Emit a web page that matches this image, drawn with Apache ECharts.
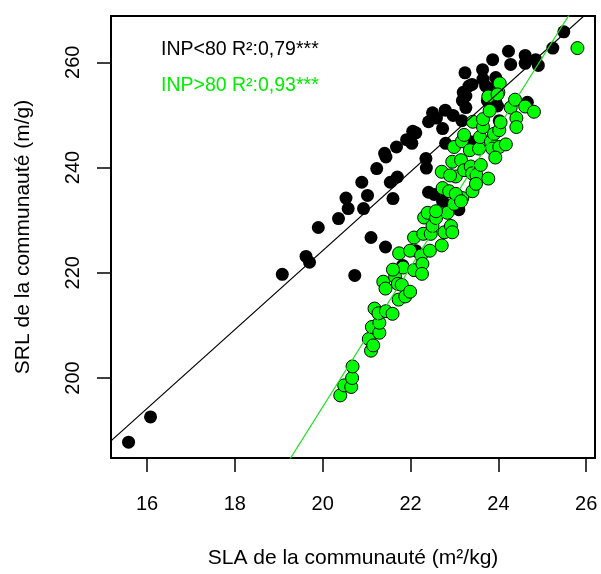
<!DOCTYPE html>
<html>
<head>
<meta charset="utf-8">
<script src="https://cdn.jsdelivr.net/npm/echarts@6/dist/echarts.min.js"></script>
<style>html,body{margin:0;padding:0;background:#fff}#c{width:601px;height:574px}</style>
</head>
<body>
<div id="c"></div>
<script>
// Tick values
const xTicks = [16, 18, 20, 22, 24, 26];
const yTicks = [200, 220, 240, 260];
const xRange = [15.18, 26.2];
const yRange = [184.8, 268.8];

// INP<80 (black) points: [SLA, SRL]
const inpLow = [
  [15.58,187.8],[16.08,192.6],[19.08,219.7],[19.62,223.1],[19.70,222.0],[19.90,228.6],
  [20.36,230.3],[20.53,234.2],[20.58,232.2],[20.89,237.2],[20.93,232.2],[20.73,219.5],
  [21.02,234.7],[21.10,226.7],[21.43,224.9],[21.23,239.8],[21.41,242.7],[21.44,242.0],
  [21.60,234.1],[21.54,237.2],[21.70,238.2],[21.68,243.9],[21.91,245.3],[22.05,246.9],
  [22.12,246.6],[22.03,244.6],[22.35,241.7],[22.36,239.9],[22.41,235.3],[22.54,234.9],
  [22.73,233.6],[22.41,248.7],[22.50,250.4],[22.59,249.4],[22.73,247.4],[22.79,250.9],
  [22.80,244.6],[22.97,249.9],[23.17,248.9],[23.24,258.0],[23.20,254.3],[23.18,252.7],
  [23.26,251.4],[23.40,255.8],[23.37,244.9],[23.64,258.6],[23.65,256.8],[23.71,255.5],
  [23.79,254.6],[23.75,252.7],[23.87,260.5],[23.94,257.1],[23.98,255.8],[23.94,252.4],
  [24.02,248.9],[23.98,251.7],[24.28,259.6],[24.61,259.8],[24.66,252.4],[24.91,259.4],
  [24.85,260.5],[25.49,265.8],[25.24,262.7],[24.23,262.1],[24.61,261.3],[23.33,255.5],
  [23.26,253.6],[21.82,221.4],[22.12,224.2],[23.03,233.0],[23.10,232.0]
];

// INP>80 (green) points: [SLA, SRL]
const inpHigh = [
  [20.40,196.7],[20.49,198.6],[20.65,198.3],[20.67,200.0],[20.68,202.2],[21.05,207.4],
  [21.10,205.2],[21.15,206.2],[21.12,209.7],[21.29,208.6],[21.29,210.5],[21.18,213.2],
  [21.27,212.3],[21.44,212.7],[21.59,212.2],[21.38,218.3],[21.43,217.0],[21.65,219.2],
  [21.71,217.9],[21.80,217.7],[21.73,214.9],[21.88,215.5],[21.99,216.4],[21.74,223.7],
  [21.83,221.0],[21.99,224.2],[22.08,220.5],[22.08,226.7],[22.24,223.3],[22.27,221.7],
  [22.26,219.8],[22.29,227.4],[22.31,230.5],[22.39,231.4],[22.44,224.2],[22.46,227.4],
  [22.50,228.9],[22.58,230.4],[22.71,225.2],[22.77,227.7],[22.92,228.9],[22.95,227.7],
  [22.84,231.4],[22.99,233.1],[23.18,234.2],[22.58,231.7],[22.73,236.1],[22.88,235.5],
  [23.03,235.0],[23.15,233.6],[23.41,235.5],[23.03,238.3],[22.71,239.2],[22.90,238.5],
  [22.95,241.1],[23.15,241.4],[23.22,239.5],[23.37,240.2],[23.40,238.9],[23.50,238.6],
  [23.60,240.5],[23.77,237.9],[23.49,236.9],[22.99,243.9],[23.17,245.0],[23.22,246.2],
  [23.35,243.3],[23.42,248.7],[23.56,243.6],[23.58,245.8],[23.65,247.7],[23.65,249.2],
  [23.83,244.9],[23.86,243.6],[23.90,246.4],[24.02,243.9],[23.93,241.9],[24.02,247.1],
  [24.05,248.6],[23.80,250.8],[23.77,253.5],[24.00,254.3],[24.03,256.0],[24.17,244.4],
  [24.28,251.4],[24.38,252.9],[24.41,249.4],[24.41,247.7],[24.61,251.6],[24.81,250.6],
  [25.80,262.7],[23.98,253.9],[21.60,220.6]
];

// Regression fits: [intercept, slope]
const fitLow = [74.2, 7.50];
const fitHigh = [-71.1, 13.28];

function fitLine(f) {
  return [xRange[0], xRange[1]].map(x => [x, f[0] + f[1] * x]);
}

const font = 'Liberation Sans, Arial, sans-serif';
const chart = echarts.init(document.getElementById('c'), null, {renderer: 'canvas'});
chart.setOption({
  animation: false,
  backgroundColor: '#fff',
  grid: {left: 111, right: 6, top: 16, bottom: 110, show: true, borderColor: '#000', borderWidth: 2},
  xAxis: {
    type: 'value', min: xRange[0], max: xRange[1],
    splitLine: {show: false},
    axisLine: {show: false, onZero: false},
    axisTick: {show: true, customValues: xTicks, length: 14, lineStyle: {color: '#000', width: 1.5}},
    axisLabel: {customValues: xTicks, fontSize: 20, color: '#000', margin: 36, fontFamily: font},
    name: 'SLA de la communauté (m²/kg)', nameLocation: 'middle', nameGap: 90,
    nameTextStyle: {fontSize: 21, color: '#000', fontFamily: font}
  },
  yAxis: {
    type: 'value', min: yRange[0], max: yRange[1],
    splitLine: {show: false},
    axisLine: {show: false, onZero: false},
    axisTick: {show: true, customValues: yTicks, length: 14, lineStyle: {color: '#000', width: 1.5}},
    axisLabel: {customValues: yTicks, fontSize: 20, color: '#000', margin: 28, rotate: 90, fontFamily: font},
    name: 'SRL de la communauté (m/g)', nameLocation: 'middle', nameGap: 77, nameRotate: 90,
    nameTextStyle: {fontSize: 21, color: '#000', fontFamily: font}
  },
  graphic: [
    {type: 'text', left: 161, top: 40, style: {text: 'INP<80 R²:0,79***', fontSize: 19.5, fill: '#000', fontFamily: font}},
    {type: 'text', left: 161, top: 76, style: {text: 'INP>80 R²:0,93***', fontSize: 19.5, fill: '#00ee00', fontFamily: font}}
  ],
  series: [
    {type: 'scatter', data: inpLow, symbolSize: 13, itemStyle: {color: '#000', opacity: 1}, z: 2},
    {type: 'scatter', data: inpHigh, symbolSize: 13, itemStyle: {color: '#00ff00', borderColor: '#000', borderWidth: 1, opacity: 1}, z: 3},
    {type: 'line', data: fitLine(fitLow), showSymbol: false, clip: true, lineStyle: {color: '#000', width: 1.2}, z: 4},
    {type: 'line', data: fitLine(fitHigh), showSymbol: false, clip: true, lineStyle: {color: '#22dd22', width: 1.2}, z: 4}
  ]
});
</script>
</body>
</html>
